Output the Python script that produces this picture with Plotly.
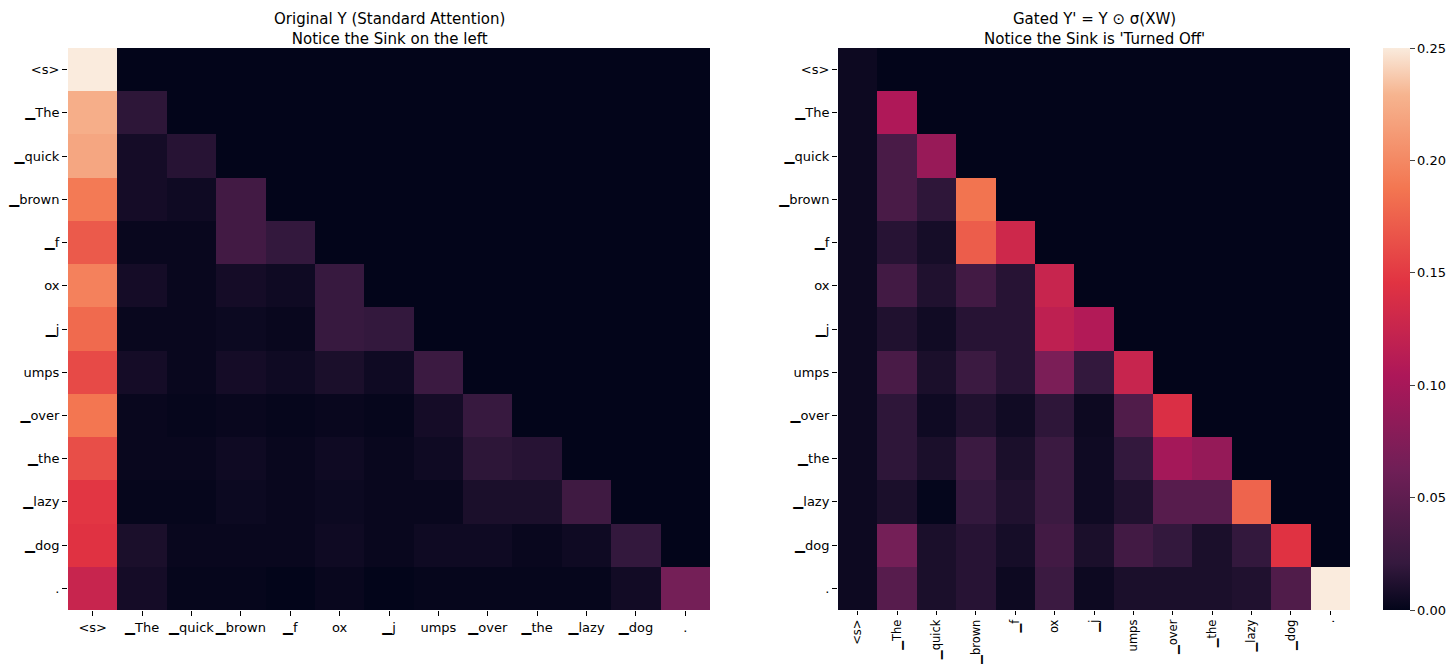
import plotly.graph_objects as go

tokens = ["&lt;s&gt;", "\u2581The", "\u2581quick", "\u2581brown", "\u2581f", "ox", "\u2581j",
          "umps", "\u2581over", "\u2581the", "\u2581lazy", "\u2581dog", "."]

# standard attention (lower triangle, row = query)
orig_rows = [
    [1.00],
    [0.90, 0.07],
    [0.88, 0.03, 0.06],
    [0.76, 0.03, 0.02, 0.12],
    [0.68, 0.01, 0.01, 0.12, 0.08],
    [0.78, 0.03, 0.01, 0.03, 0.02, 0.09],
    [0.72, 0.01, 0.01, 0.015, 0.01, 0.09, 0.08],
    [0.64, 0.03, 0.01, 0.03, 0.02, 0.04, 0.02, 0.10],
    [0.75, 0.01, 0.005, 0.01, 0.005, 0.01, 0.005, 0.03, 0.09],
    [0.65, 0.01, 0.01, 0.02, 0.01, 0.02, 0.01, 0.02, 0.07, 0.06],
    [0.59, 0.005, 0.005, 0.015, 0.01, 0.015, 0.01, 0.01, 0.04, 0.04, 0.11],
    [0.58, 0.04, 0.01, 0.01, 0.01, 0.02, 0.01, 0.02, 0.02, 0.01, 0.02, 0.08],
    [0.50, 0.03, 0.005, 0.005, 0.0, 0.01, 0.0, 0.005, 0.005, 0.005, 0.005, 0.025, 0.26],
]

# gated output
gated_rows = [
    [0.004],
    [0.004, 0.106],
    [0.004, 0.035, 0.090],
    [0.004, 0.035, 0.018, 0.186],
    [0.004, 0.015, 0.008, 0.172, 0.130],
    [0.004, 0.030, 0.012, 0.030, 0.015, 0.125],
    [0.004, 0.012, 0.006, 0.015, 0.015, 0.118, 0.108],
    [0.004, 0.035, 0.010, 0.025, 0.015, 0.070, 0.020, 0.125],
    [0.004, 0.018, 0.005, 0.012, 0.006, 0.018, 0.004, 0.040, 0.140],
    [0.004, 0.018, 0.010, 0.025, 0.010, 0.025, 0.005, 0.020, 0.098, 0.088],
    [0.004, 0.010, 0.001, 0.020, 0.012, 0.025, 0.005, 0.012, 0.045, 0.045, 0.176],
    [0.004, 0.065, 0.010, 0.015, 0.008, 0.030, 0.010, 0.030, 0.020, 0.010, 0.020, 0.145],
    [0.004, 0.045, 0.010, 0.015, 0.004, 0.025, 0.004, 0.010, 0.010, 0.010, 0.012, 0.040, 0.250],
]

n = len(tokens)
orig = [r + [0.0] * (n - len(r)) for r in orig_rows]
gated = [r + [0.0] * (n - len(r)) for r in gated_rows]

rocket = [
    [0.0, "#03051a"], [0.083, "#35193e"], [0.25, "#701f57"], [0.417, "#ad1759"],
    [0.583, "#e13342"], [0.75, "#f37651"], [0.917, "#f6b48f"], [1.0, "#faebdd"],
]

# page body has an 8px margin, so work in figure coords = page coords - 8
W, H = 1440, 656
OFF = 8
y0, y1 = 1 - (610 - OFF) / H, 1 - (48 - OFF) / H

fig = go.Figure()
fig.add_trace(go.Heatmap(z=orig, x=tokens, y=tokens, colorscale=rocket, zmin=0, zmax=1,
                         showscale=False, xaxis="x", yaxis="y"))
fig.add_trace(go.Heatmap(z=gated, x=tokens, y=tokens, colorscale=rocket, zmin=0, zmax=0.25,
                         xaxis="x2", yaxis="y2",
                         colorbar=dict(x=(1383 - OFF) / W, xanchor="left", xpad=0,
                                       y=y0, yanchor="bottom", ypad=0,
                                       len=y1 - y0, lenmode="fraction", thickness=27,
                                       outlinewidth=0, ticks="outside", ticklen=5,
                                       tickvals=[0, 0.05, 0.10, 0.15, 0.20, 0.25],
                                       tickformat=".2f", tickfont=dict(size=13, color="#000"))))

ax = dict(showgrid=False, zeroline=False, ticks="outside", ticklen=5, tickcolor="#000",
          tickfont=dict(size=13, color="#000"), showline=False, automargin=False)
fig.update_layout(
    width=W, height=H, margin=dict(l=0, r=0, t=0, b=0, autoexpand=False),
    paper_bgcolor="white", plot_bgcolor="white",
    font=dict(family="DejaVu Sans", color="#000"),
    xaxis=dict(domain=[(68 - OFF) / W, (710 - OFF) / W], anchor="y", tickangle=0, **ax),
    yaxis=dict(domain=[y0, y1], anchor="x", autorange="reversed", **ax),
    xaxis2=dict(domain=[(838 - OFF) / W, (1350 - OFF) / W], anchor="y2", tickangle=-90,
                **{**ax, "tickfont": dict(size=11.5, color="#000"), "ticklen": 4}),
    yaxis2=dict(domain=[y0, y1], anchor="x2", autorange="reversed", **ax),
    annotations=[
        dict(text="Original Y (Standard Attention)<br>Notice the Sink on the left",
             x=((68 + 710) / 2 - OFF) / W, y=1, xref="paper", yref="paper",
             xanchor="center", yanchor="top", showarrow=False, font=dict(size=15)),
        dict(text="Gated Y' = Y \u2299 \u03c3(XW)<br>Notice the Sink is 'Turned Off'",
             x=((838 + 1350) / 2 - OFF) / W, y=1, xref="paper", yref="paper",
             xanchor="center", yanchor="top", showarrow=False, font=dict(size=15)),
    ],
)

fig.write_html("out.html")
